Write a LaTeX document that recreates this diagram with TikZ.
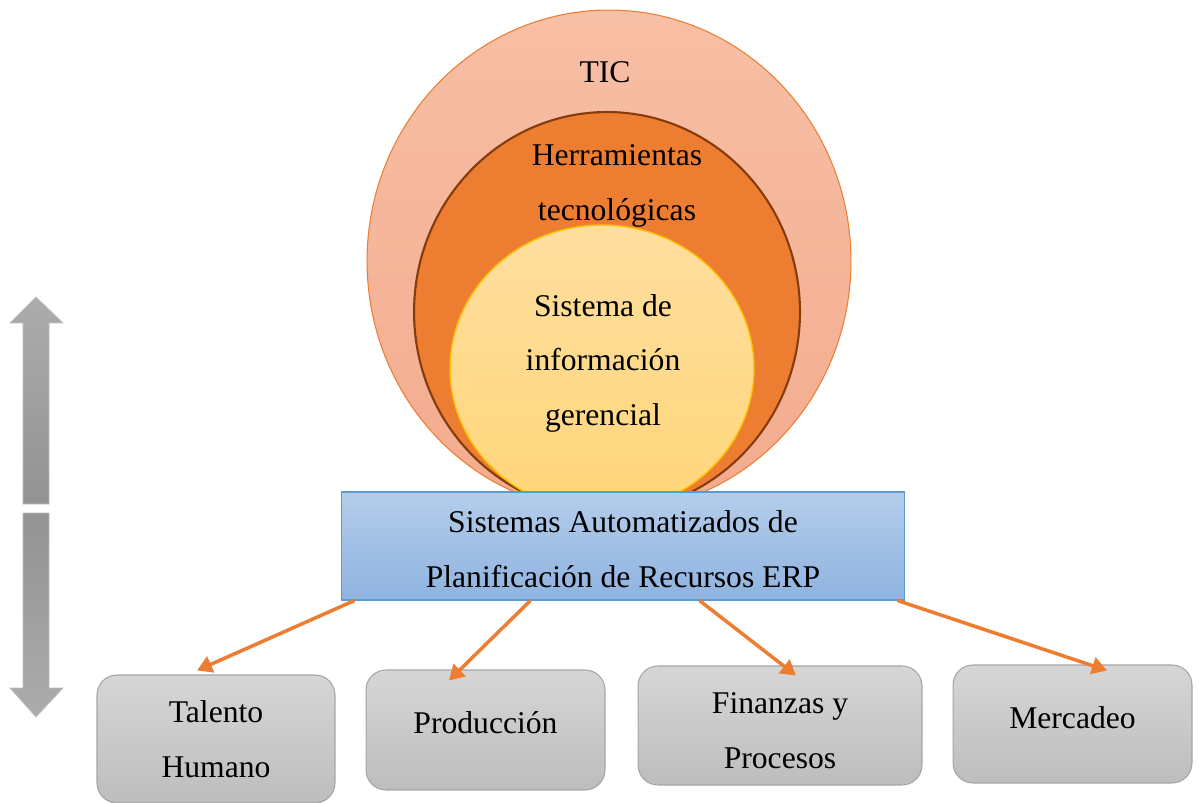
\documentclass[tikz,border=0pt]{standalone}
\usepackage{fontspec}
\setmainfont{Liberation Serif}
\usetikzlibrary{arrows.meta,shapes.geometric}
\definecolor{naranja}{HTML}{ED7D31}
\definecolor{cafe}{HTML}{843C0C}
\definecolor{dorado}{HTML}{FFC000}
\definecolor{ticarriba}{HTML}{F7BFA5}
\definecolor{ticabajo}{HTML}{F3AB8E}
\definecolor{sigarriba}{HTML}{FEDE9F}
\definecolor{sigabajo}{HTML}{FFD67A}
\definecolor{erparriba}{HTML}{B4CDEA}
\definecolor{erpabajo}{HTML}{8FB3E0}
\definecolor{erpborde}{HTML}{5B9BD5}
\definecolor{areaarriba}{HTML}{D6D6D6}
\definecolor{areaabajo}{HTML}{BDBDBD}
\definecolor{areaborde}{HTML}{A5A5A5}
\begin{document}
\begin{tikzpicture}[x=0.02cm,y=-0.02cm,
    every node/.style={font=\fontsize{18}{31}\selectfont},
    capa/.style={ellipse,inner sep=0pt},
    erpbox/.style={draw=erpborde,line width=0.6pt,top color=erparriba,bottom color=erpabajo,align=center,inner sep=0pt},
    area/.style={draw=areaborde,line width=0.6pt,rounded corners=0.4cm,top color=areaarriba,bottom color=areaabajo,inner sep=0pt},
    flecha/.style={draw=naranja,line width=2pt,-{Triangle[length=0.3cm,width=0.34cm]}}]
  \useasboundingbox (0,0) rectangle (1199,803);

  % double gray arrow on the left
  \path[draw=areaabajo,line width=0.4pt,top color=gray!65,bottom color=gray!85]
    (36,297) -- (63,323) -- (49,323) -- (49,504) -- (23,504) -- (23,323) -- (10,323) -- cycle;
  \path[draw=areaabajo,line width=0.4pt,top color=gray!85,bottom color=gray!65]
    (23,513) -- (49,513) -- (49,688) -- (63,688) -- (36,717) -- (10,688) -- (23,688) -- cycle;

  % nested layers
  \node[capa,draw=naranja,line width=0.6pt,top color=ticarriba,bottom color=ticabajo,minimum width=9.68cm,minimum height=10.04cm] (tic) at (609,261) {};
  \node[capa,draw=cafe,line width=1.2pt,fill=naranja,minimum width=7.72cm,minimum height=8cm] (herr) at (607,312) {};
  \node[capa,draw=dorado,line width=0.8pt,top color=sigarriba,bottom color=sigabajo,minimum width=6.08cm,minimum height=5.74cm] (sig) at (602,368.5) {};
  \node (tictxt) at (605,72) {TIC};
  \node[align=center] (herrtxt) at (617,186) {Herramientas\\tecnológicas};
  \node[align=center] (sigtxt) at (603,363) {Sistema de\\información\\gerencial};

  \node[erpbox,minimum width=11.28cm,minimum height=2.16cm] (erp) at (623,546) {};
  \node[align=center] (erptxt) at (623,549) {Sistemas Automatizados de\\Planificación de Recursos ERP};

  \def \Areas {
    tal/216/739/4.76/2.56/0/{Talento\\Humano},
    prod/485.5/730/4.78/2.4/-7/{Producción},
    fin/780/725.5/5.68/2.38/5/{Finanzas y\\Procesos},
    merc/1072.5/724/4.78/2.36/-6/{Mercadeo}}
  \def \Flechas {
    erp.south west/0.28/tal.north/-0.38/0.08,
    erp.south west/3.8/prod.north/-0.73/-0.22,
    erp.south west/7.18/fin.north/0.32/-0.2,
    erp.south east/-0.16/merc.north/0.69/-0.12}

  \foreach \nombre / \x / \y / \w / \h / \dy / \texto in \Areas {
    \node[area,minimum width=\w cm,minimum height=\h cm] (\nombre) at (\x,\y) {};
    \node[align=center] (\nombre txt) at (\x,\y+\dy) {\texto};
  }
  \foreach \desde / \a / \hasta / \b / \c in \Flechas {
    \draw[flecha] ([xshift=\a cm]\desde) -- ([xshift=\b cm,yshift=\c cm]\hasta);
  }
\end{tikzpicture}
\end{document}
